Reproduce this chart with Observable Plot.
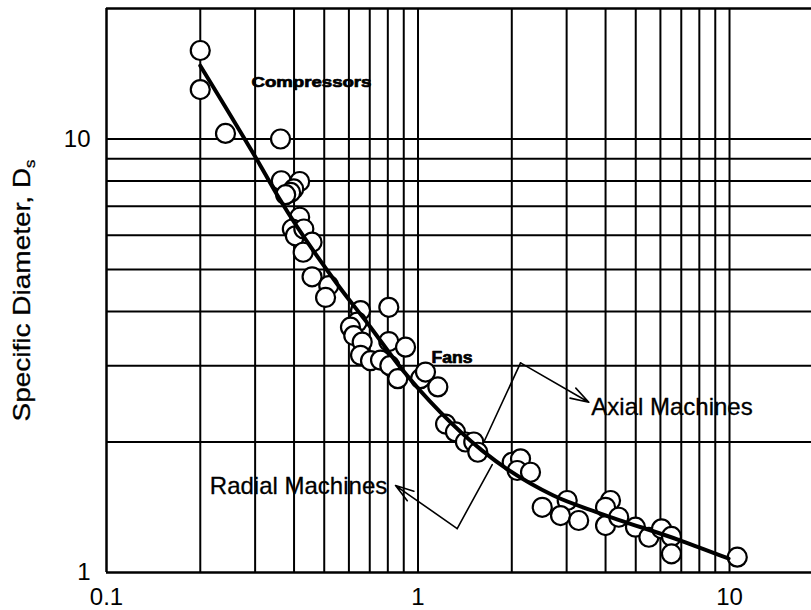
<!DOCTYPE html>
<html>
<head>
<meta charset="utf-8">
<script src="https://cdn.jsdelivr.net/npm/d3@7"></script>
<script src="https://cdn.jsdelivr.net/npm/@observablehq/plot@0.6"></script>
<style>
  html, body { margin: 0; padding: 0; background: #fff; }
</style>
</head>
<body>
<div id="chart"></div>
<script>
// Data points (specific speed Ns, specific diameter Ds)
const ptX = [0.200,0.200,0.241,0.362,0.364,0.417,0.399,0.390,0.376,0.417,0.395,0.404,0.430,0.457,0.428,0.457,0.517,0.505,0.654,0.806,0.638,0.607,0.622,0.662,0.806,0.912,0.654,0.704,0.758,0.812,0.861,1.019,1.057,1.158,1.226,1.319,1.420,1.510,1.556,2.006,2.134,2.082,2.297,2.505,3.013,2.868,3.280,4.150,4.000,4.000,4.410,4.990,5.510,6.050,6.510,6.510,10.59];
const ptY = [16.0,13.0,10.3,10.0,8.01,7.98,7.67,7.53,7.44,6.60,6.20,5.98,6.20,5.78,5.48,4.81,4.59,4.31,4.02,4.09,3.78,3.68,3.52,3.40,3.41,3.31,3.17,3.08,3.09,3.00,2.80,2.80,2.90,2.68,2.20,2.11,2.00,2.00,1.894,1.796,1.829,1.719,1.703,1.414,1.466,1.353,1.318,1.466,1.414,1.283,1.341,1.272,1.206,1.261,1.211,1.104,1.085];

// Fitted curve
const curveX = [0.200,0.312,0.362,0.550,0.704,0.879,1.181,1.607,2.72,3.85,6.96,9.93];
const curveY = [14.76,8.68,7.21,4.63,3.68,2.97,2.34,1.91,1.505,1.368,1.185,1.077];

// Grid
const xGrid = [0.2,0.3,0.4,0.5,0.6,0.7,0.8,0.9,1,2,3,4,5,6,7,8,9,10];
const yGrid = [2,3,4,5,6,7,8,9,10];
const xTicks = [0.1, 1, 10];
const yTicks = [1, 10];

// Annotations
const labelText = ["Compressors", "Fans", "Axial Machines", "Radial Machines"];
const labelX = [0.292, 1.105, 3.60, 0.2146];
const labelY = [13.49, 3.13, 2.41, 1.581];

// Leader lines: segment to apex, then arrow from apex to label
const axialLeadX = [1.626, 2.134];
const axialLeadY = [1.997, 3.044];
const axialArrow = {x1: 2.134, y1: 3.044, x2: 3.534, y2: 2.47};
const radialLeadX = [1.731, 1.336];
const radialLeadY = [1.774, 1.263];
const radialArrow = {x1: 1.336, y1: 1.263, x2: 0.847, y2: 1.587};

const yTitle = "Specific Diameter, D";

const points = ptX.map((x, i) => ({x, y: ptY[i]}));
const curve = curveX.map((x, i) => ({x, y: curveY[i]}));
const axialLead = axialLeadX.map((x, i) => ({x, y: axialLeadY[i]}));
const radialLead = radialLeadX.map((x, i) => ({x, y: radialLeadY[i]}));
const labels = labelText.map((t, i) => ({t, x: labelX[i], y: labelY[i]}));

const font = "'Liberation Sans', Arial, Helvetica, sans-serif";

const chart = Plot.plot({
  width: 811,
  height: 610,
  marginLeft: 106,
  marginRight: 0,
  marginTop: 8,
  marginBottom: 38,
  x: {type: "log", domain: [0.1, 18.33]},
  y: {type: "log", domain: [1, 20]},
  style: {fontFamily: font, background: "#fff", color: "#000", overflow: "visible"},
  marks: [
    Plot.ruleX(xGrid, {stroke: "#000", strokeWidth: 2}),
    Plot.ruleY(yGrid, {stroke: "#000", strokeWidth: 2}),
    Plot.ruleX([0.1], {stroke: "#000", strokeWidth: 2.5}),
    Plot.ruleY([1, 20], {stroke: "#000", strokeWidth: 2.5}),
    Plot.dot(points, {x: "x", y: "y", r: 9.5, fill: "#fff", stroke: "#000", strokeWidth: 2.2}),
    Plot.line(curve, {x: "x", y: "y", curve: "monotone-x", stroke: "#000", strokeWidth: 4}),
    Plot.line(axialLead, {x: "x", y: "y", stroke: "#000", strokeWidth: 1.6}),
    Plot.line(radialLead, {x: "x", y: "y", stroke: "#000", strokeWidth: 1.6}),
    Plot.arrow([axialArrow, radialArrow], {x1: "x1", y1: "y1", x2: "x2", y2: "y2", stroke: "#000", strokeWidth: 1.6, headLength: 18, headAngle: 35}),
    Plot.text(labels.slice(0, 2), {x: "x", y: "y", text: "t", textAnchor: "start", fontSize: 15, fontWeight: "bold", fill: "#000", stroke: "#000", strokeWidth: 0.7}),
    Plot.text(labels.slice(2), {x: "x", y: "y", text: "t", textAnchor: "start", fontSize: 24, fill: "#000", stroke: "#000", strokeWidth: 0.3}),
    Plot.axisX({ticks: xTicks, tickSize: 0, tickPadding: 15, fontSize: 24, label: null, tickFormat: d => String(d)}),
    Plot.axisY({ticks: yTicks, tickSize: 0, tickPadding: 16, fontSize: 24, label: null, tickFormat: d => String(d)}),
    Plot.text([yTitle], {frameAnchor: "left", dx: -84, rotate: -90, fontSize: 24, textAnchor: "middle", fill: "#000", stroke: "#000", strokeWidth: 0.3})
  ]
});

document.getElementById("chart").appendChild(chart);

const svg = d3.select(chart.tagName.toLowerCase() === "svg" ? chart : chart.querySelector("svg"));
svg.selectAll("text").each(function() {
  const el = d3.select(this);
  const t = this.textContent;
  if (t === yTitle) {
    el.append("tspan").attr("font-size", "60%").attr("dy", "0.35em").text("s");
    el.attr("textLength", 262).attr("lengthAdjust", "spacingAndGlyphs");
  } else if (t === "Compressors") {
    el.attr("textLength", 120).attr("lengthAdjust", "spacingAndGlyphs");
  } else if (t === "Fans") {
    el.attr("font-size", 16).attr("textLength", 41).attr("lengthAdjust", "spacingAndGlyphs");
  }
});
</script>
</body>
</html>
